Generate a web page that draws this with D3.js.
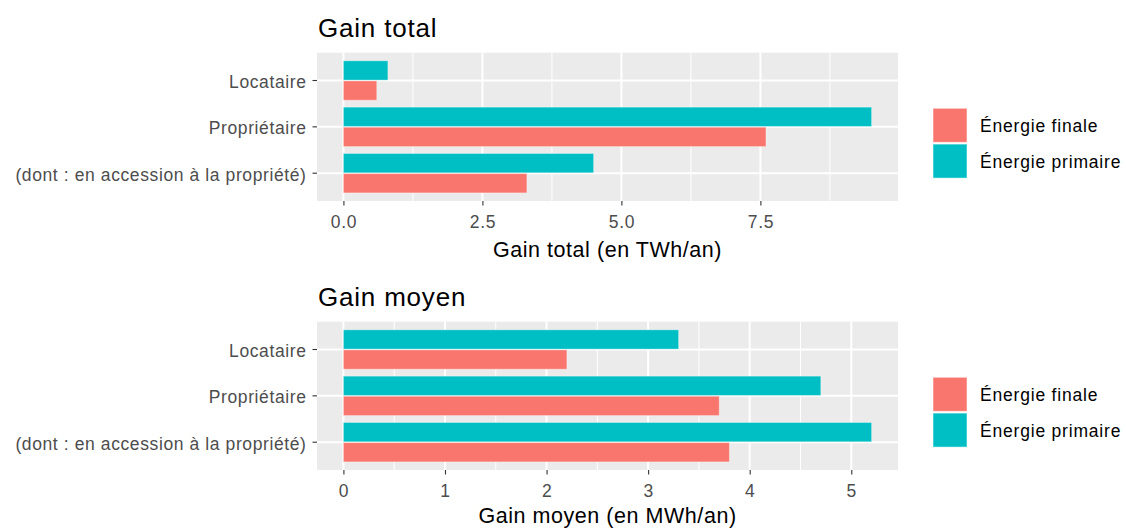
<!DOCTYPE html>
<meta charset="utf-8">
<style>
body { margin: 0; background: #fff; }
text { font-family: "Liberation Sans", Arial, sans-serif; }
.axis path { display: none; }
.axis line { stroke: #333; stroke-width: 1.1; }
.axis text { fill: #4d4d4d; font-size: 17.5px; letter-spacing: 0.6px; }
</style>
<svg width="1126" height="529"></svg>
<script src="https://cdn.jsdelivr.net/npm/d3@7"></script>
<script>

// categories (top to bottom) and fill series
var categories = ["Locataire", "Propriétaire", "(dont : en accession à la propriété)"];
var series = ["Énergie finale", "Énergie primaire"];
var colors = ["#F8766D", "#00BFC4"];

// gain total, TWh/an
var totalFinale   = [0.6, 7.6, 3.3];
var totalPrimaire = [0.8, 9.5, 4.5];
var totalTicks = [0, 2.5, 5, 7.5];

// gain moyen, MWh/an
var moyenFinale   = [2.2, 3.7, 3.8];
var moyenPrimaire = [3.3, 4.7, 5.2];
var moyenTicks = [0, 1, 2, 3, 4, 5];

var svg = d3.select("svg");

// one panel = title + plot + x axis + legend
function panel(top, title, xTitle, titleY, finale, primaire, ticks, fmt) {
  var left = 317, right = 898,
      pTop = top, pBottom = top + 148.3;

  var rows = [];
  categories.forEach(function(c, i) {
    rows.push({cat: c, s: series[0], v: finale[i]});
    rows.push({cat: c, s: series[1], v: primaire[i]});
  });

  var max = d3.max(rows, function(d) { return d.v; });
  var x = d3.scaleLinear().domain([-0.05 * max, 1.05 * max]).range([left, right]);
  var y = d3.scaleBand().domain(categories).range([pTop, pBottom]).paddingInner(0).paddingOuter(0.1);
  // primaire drawn above finale inside each category
  var step = y.bandwidth();
  var inner = d3.scaleBand().domain([series[1], series[0]])
      .range([step * 0.075, step * 0.925]).paddingInner(0.04);

  var g = svg.append("g");

  g.append("rect")
      .attr("x", left).attr("y", pTop)
      .attr("width", right - left).attr("height", pBottom - pTop)
      .attr("fill", "#ebebeb");

  // minor grid: midpoints between major ticks
  var stepT = ticks[1] - ticks[0];
  var minor = [];
  for (var v = ticks[0] - stepT / 2; v <= x.domain()[1]; v += stepT) {
    if (v >= x.domain()[0]) minor.push(v);
  }
  g.selectAll(".minor").data(minor).enter().append("line")
      .attr("x1", function(d) { return x(d); }).attr("x2", function(d) { return x(d); })
      .attr("y1", pTop).attr("y2", pBottom)
      .attr("stroke", "#fff").attr("stroke-width", 1);

  g.selectAll(".major").data(ticks).enter().append("line")
      .attr("x1", function(d) { return x(d); }).attr("x2", function(d) { return x(d); })
      .attr("y1", pTop).attr("y2", pBottom)
      .attr("stroke", "#fff").attr("stroke-width", 2);

  g.selectAll(".hgrid").data(categories).enter().append("line")
      .attr("x1", left).attr("x2", right)
      .attr("y1", function(d) { return y(d) + step / 2; })
      .attr("y2", function(d) { return y(d) + step / 2; })
      .attr("stroke", "#fff").attr("stroke-width", 2);

  g.selectAll(".bar").data(rows).enter().append("rect")
      .attr("x", x(0))
      .attr("y", function(d) { return y(d.cat) + inner(d.s); })
      .attr("width", function(d) { return x(d.v) - x(0); })
      .attr("height", inner.bandwidth())
      .attr("fill", function(d) { return colors[series.indexOf(d.s)]; })
      .attr("stroke", "#fff").attr("stroke-opacity", 0.35).attr("stroke-width", 1);

  g.append("g")
      .attr("class", "axis")
      .attr("transform", "translate(0," + pBottom + ")")
      .call(d3.axisBottom(x).tickValues(ticks).tickFormat(fmt).tickSize(4.5).tickPadding(10));

  g.append("g")
      .attr("class", "axis")
      .attr("transform", "translate(" + left + ",0)")
      .call(d3.axisLeft(y).tickSize(4.5).tickPadding(6))
    .selectAll("text")
      .attr("dy", "0.42em");

  g.append("text")
      .attr("x", left + 1).attr("y", pTop - 16)
      .attr("font-size", "26px").attr("fill", "#000")
      .attr("letter-spacing", "0.8px")
      .text(title);

  g.append("text")
      .attr("x", (left + right) / 2).attr("y", pBottom + titleY)
      .attr("text-anchor", "middle")
      .attr("font-size", "21.5px").attr("fill", "#000")
      .attr("letter-spacing", "0.55px")
      .text(xTitle);

  // legend
  var lg = g.append("g").attr("transform", "translate(933," + (pTop + 55.6) + ")");
  series.forEach(function(s, i) {
    lg.append("rect")
        .attr("x", 0).attr("y", i * 35.8)
        .attr("width", 34).attr("height", 34)
        .attr("fill", colors[i])
        .attr("stroke", "#fff").attr("stroke-opacity", 0.5).attr("stroke-width", 1);
    lg.append("text")
        .attr("x", 47).attr("y", i * 35.8 + 17)
        .attr("dy", "0.38em")
        .attr("font-size", "17.5px").attr("fill", "#000")
        .attr("letter-spacing", "0.8px")
        .text(s);
  });
}

panel(52.7, "Gain total", "Gain total (en TWh/an)", 56, totalFinale, totalPrimaire, totalTicks, d3.format(".1f"));
panel(321.7, "Gain moyen", "Gain moyen (en MWh/an)", 53, moyenFinale, moyenPrimaire, moyenTicks, d3.format("d"));

</script>
